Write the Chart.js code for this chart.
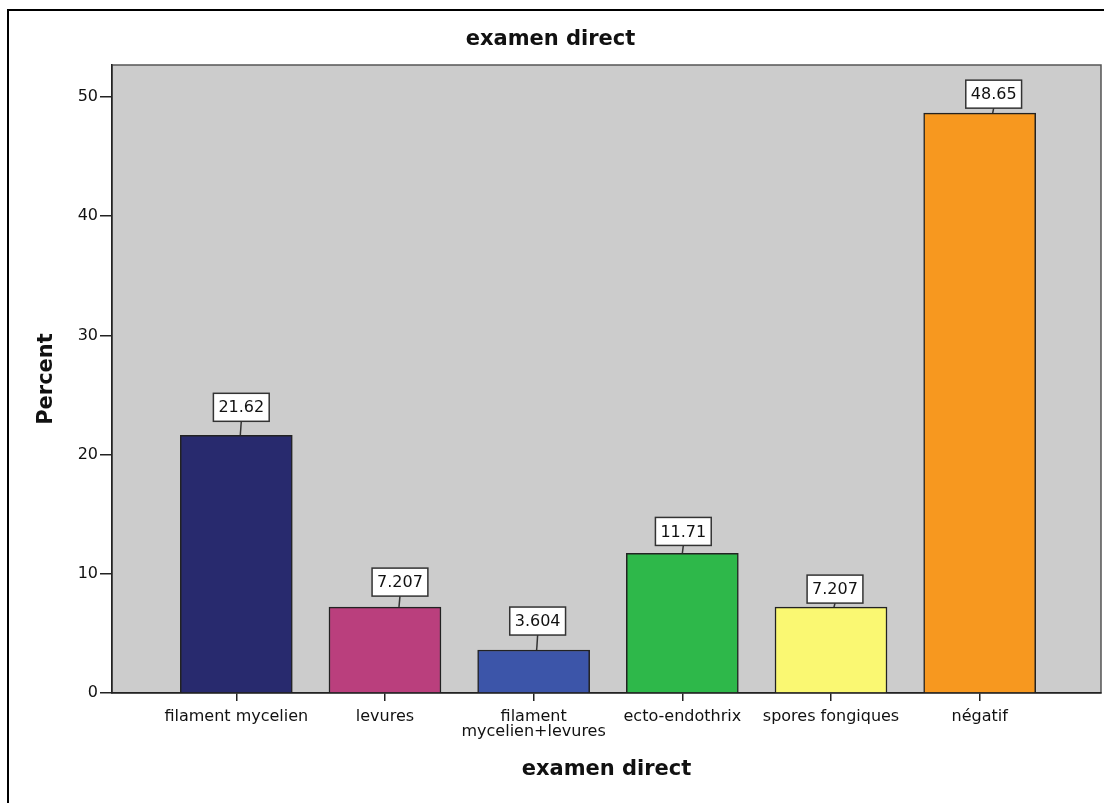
<!DOCTYPE html>
<html>
<head>
<meta charset="utf-8">
<script src="https://cdn.jsdelivr.net/npm/chart.js@4.4.1/dist/chart.umd.min.js"></script>
<style>
  html, body { margin: 0; padding: 0; background: #fff; }
  #wrap { position: relative; width: 1104px; height: 803px; }
</style>
</head>
<body>
<div id="wrap"><canvas id="c" width="1104" height="803"></canvas></div>
<script>
// Results of the direct examination, in percent of samples
const categories = ['filament mycelien', 'levures', ['filament', 'mycelien+levures'], 'ecto-endothrix', 'spores fongiques', 'négatif'];
const percents = [21.62, 7.207, 3.604, 11.71, 7.207, 48.65];
const yTicks = [0, 10, 20, 30, 40, 50];
const barColors = ['#282A6E', '#BA3F7D', '#3C55A9', '#2EB84A', '#FAF872', '#F7981F'];

// callout placement in pixels: horizontal nudge and gap above the bar top
const calloutDx = [5, 15, 4, 1, 4, 14];
const calloutGap = [14, 11, 15, 8, 4, 5];

const FONT = 'DejaVu Sans';
const titleFont = { family: FONT, size: 21, weight: 'bold' };

// grey plot panel plus the outer frame
const plotFrame = {
  id: 'plotFrame',
  beforeDraw(chart) {
    const { ctx, chartArea: a } = chart;
    ctx.save();
    ctx.fillStyle = '#fff';
    ctx.fillRect(0, 0, chart.width, chart.height);
    ctx.fillStyle = '#CCCCCC';
    ctx.fillRect(a.left, a.top, a.right - a.left, a.bottom - a.top);
    ctx.strokeStyle = '#555';
    ctx.lineWidth = 1.5;
    ctx.strokeRect(a.left, a.top, a.right - a.left, a.bottom - a.top);
    ctx.strokeStyle = '#000';
    ctx.lineWidth = 2;
    ctx.beginPath();
    ctx.moveTo(8, chart.height);
    ctx.lineTo(8, 10);
    ctx.lineTo(chart.width, 10);
    ctx.stroke();
    ctx.restore();
  }
};

// boxed value labels with a short leader down to each bar
const callouts = {
  id: 'callouts',
  afterDatasetsDraw(chart) {
    const { ctx } = chart;
    const meta = chart.getDatasetMeta(0);
    ctx.save();
    ctx.font = '16px "' + FONT + '"';
    meta.data.forEach((bar, i) => {
      const txt = String(Number(percents[i].toPrecision(4)));
      const w = ctx.measureText(txt).width + 10;
      const h = 28;
      const cx = bar.x + calloutDx[i];
      const bottom = bar.y - calloutGap[i];
      const top = bottom - h;
      ctx.fillStyle = '#fff';
      ctx.fillRect(cx - w / 2, top, w, h);
      ctx.strokeStyle = '#333';
      ctx.lineWidth = 1.5;
      ctx.strokeRect(cx - w / 2, top, w, h);
      ctx.beginPath();
      ctx.moveTo(cx, bottom);
      ctx.lineTo(cx - 1, bar.y);
      ctx.stroke();
      ctx.fillStyle = '#111';
      ctx.textAlign = 'center';
      ctx.textBaseline = 'middle';
      ctx.fillText(txt, cx, top + h / 2 + 1);
    });
    ctx.restore();
  }
};

new Chart(document.getElementById('c'), {
  type: 'bar',
  data: {
    datasets: [{
      data: percents.map((v, i) => ({ x: i, y: v })),
      backgroundColor: barColors,
      borderColor: '#222',
      borderWidth: 1.5,
      barThickness: 112
    }]
  },
  options: {
    responsive: false,
    animation: false,
    devicePixelRatio: 1,
    layout: { padding: { left: 0, top: 0, right: 3, bottom: 0 } },
    plugins: {
      legend: { display: false },
      tooltip: { enabled: false },
      title: {
        display: true,
        text: 'examen direct',
        font: titleFont,
        color: '#111',
        padding: { top: 27.4, bottom: 12.4 }
      }
    },
    scales: {
      x: {
        type: 'linear',
        min: -0.836,
        max: 5.816,
        offset: false,
        afterBuildTicks: s => { s.ticks = categories.map((c, i) => ({ value: i })); },
        afterFit: s => { s.height = 110; },
        grid: { offset: false, drawOnChartArea: false, drawTicks: true, tickLength: 8, color: '#222', lineWidth: 1.5 },
        border: { display: true, color: '#222', width: 1.5 },
        ticks: {
          callback: v => categories[v],
          maxRotation: 0,
          minRotation: 0,
          autoSkip: false,
          padding: 8,
          color: '#111',
          font: { family: FONT, size: 16, lineHeight: 0.95 }
        },
        title: {
          display: true,
          text: 'examen direct',
          font: titleFont,
          color: '#111',
          padding: { top: 0, bottom: 20.4 }
        }
      },
      y: {
        min: 0,
        max: 52.69,
        afterBuildTicks: s => { s.ticks = yTicks.map(v => ({ value: v })); },
        afterFit: s => { s.width = 112; },
        grid: { drawOnChartArea: false, tickLength: 12, color: '#222', lineWidth: 1.5 },
        border: { color: '#222', width: 1.5 },
        ticks: { padding: 2, color: '#111', font: { family: FONT, size: 16 } },
        title: {
          display: true,
          text: 'Percent',
          font: titleFont,
          color: '#111',
          padding: { top: 34.4, bottom: 0 }
        }
      }
    }
  },
  plugins: [plotFrame, callouts]
});
</script>
</body>
</html>
